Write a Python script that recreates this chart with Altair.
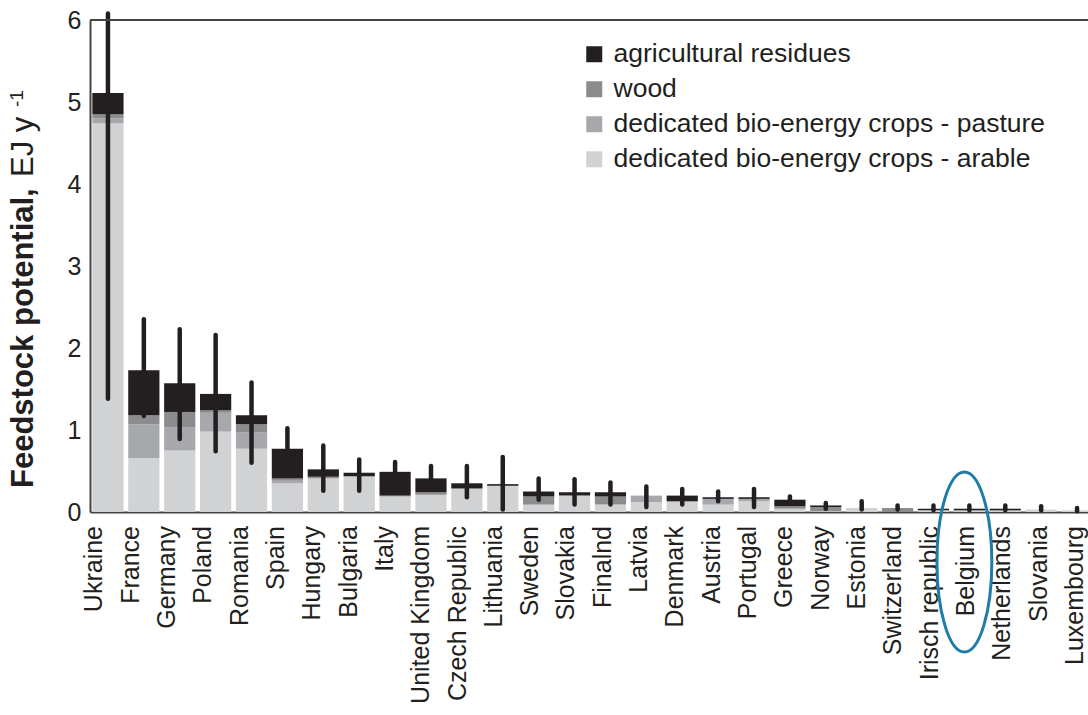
import altair as alt
import pandas as pd

countries = ["Ukraine", "France", "Germany", "Poland", "Romania", "Spain", "Hungary",
             "Bulgaria", "Italy", "United Kingdom", "Czech Republic", "Lithuania",
             "Sweden", "Slovakia", "Finalnd", "Latvia", "Denmark", "Austria",
             "Portugal", "Greece", "Norway", "Estonia", "Switzerland",
             "Irisch republic", "Belgium", "Netherlands", "Slovania", "Luxembourg"]

arable =   [4.74, 0.66, 0.75, 0.98, 0.77, 0.35, 0.41, 0.43, 0.19, 0.21, 0.28, 0.32,
            0.09, 0.20, 0.09, 0.12, 0.13, 0.09, 0.13, 0.04, 0.01, 0.05, 0.00,
            0.02, 0.02, 0.02, 0.03, 0.02]
pasture =  [0.06, 0.41, 0.28, 0.23, 0.20, 0.03, 0.00, 0.00, 0.00, 0.00, 0.00, 0.00,
            0.00, 0.00, 0.00, 0.08, 0.00, 0.07, 0.03, 0.00, 0.00, 0.00, 0.00,
            0.00, 0.00, 0.00, 0.00, 0.00]
wood =     [0.05, 0.11, 0.19, 0.03, 0.10, 0.03, 0.02, 0.01, 0.01, 0.03, 0.01, 0.00,
            0.10, 0.00, 0.10, 0.00, 0.00, 0.00, 0.00, 0.03, 0.05, 0.00, 0.05,
            0.00, 0.00, 0.00, 0.00, 0.00]
residues = [0.26, 0.55, 0.35, 0.20, 0.11, 0.36, 0.09, 0.04, 0.29, 0.17, 0.06, 0.02,
            0.06, 0.04, 0.05, 0.00, 0.07, 0.02, 0.02, 0.08, 0.02, 0.00, 0.00,
            0.02, 0.02, 0.02, 0.00, 0.00]
err_low =  [1.38, 1.17, 0.89, 0.74, 0.60, 0.55, 0.26, 0.26, 0.35, 0.30, 0.18, 0.03,
            0.15, 0.09, 0.09, 0.06, 0.09, 0.13, 0.06, 0.10, 0.04, 0.03, 0.03,
            0.02, 0.02, 0.02, 0.02, 0.01]
err_high = [6.08, 2.35, 2.23, 2.16, 1.58, 1.02, 0.81, 0.64, 0.61, 0.56, 0.56, 0.67,
            0.41, 0.40, 0.36, 0.31, 0.28, 0.25, 0.28, 0.19, 0.11, 0.13, 0.08,
            0.08, 0.08, 0.08, 0.07, 0.05]

sources = ["agricultural residues", "wood",
           "dedicated bio-energy crops - pasture", "dedicated bio-energy crops - arable"]
colors = ["#231f20", "#8c8c8e", "#a7a8ab", "#d1d2d4"]
y_ticks = [0, 1, 2, 3, 4, 5, 6]

FONT = "Liberation Sans"
INK = "#231f20"

rows = []
for i, c in enumerate(countries):
    for order, (src, vals) in enumerate([(sources[3], arable), (sources[2], pasture),
                                         (sources[1], wood), (sources[0], residues)]):
        rows.append({"country": c, "source": src, "value": vals[i], "order": order})
df = pd.DataFrame(rows)
err = pd.DataFrame({"country": countries, "lo": err_low, "hi": err_high})
one = pd.DataFrame({"k": [0]})


def xscale():
    return alt.Scale(domain=countries, range=[0, 1005], paddingInner=0.13, paddingOuter=0.065)


yscale = alt.Scale(domain=[0, 6], nice=False)

xaxis = alt.Axis(title=None, labels=False, ticks=False, domainColor="#444444", domainWidth=2)
yaxis = alt.Axis(title=None, values=y_ticks, labelFontSize=25, labelFont=FONT,
                 labelColor=INK, labelPadding=9, ticks=False, grid=False,
                 domainColor="#444444", domainWidth=2, format="d")

bars = alt.Chart(df).mark_bar().encode(
    x=alt.X("country:N", scale=xscale(), sort=countries, axis=xaxis),
    y=alt.Y("value:Q", stack="zero", scale=yscale, axis=yaxis),
    color=alt.Color("source:N", scale=alt.Scale(domain=sources, range=colors),
                    legend=alt.Legend(title=None, orient="none", legendX=491, legendY=21,
                                      symbolType="square", symbolSize=256,
                                      symbolStrokeWidth=0, labelFontSize=26.5,
                                      labelFont=FONT, labelColor=INK,
                                      rowPadding=8, labelOffset=6, padding=0,
                                      labelLimit=700)),
    order=alt.Order("order:Q"),
)

errbars = alt.Chart(err).mark_rule(strokeWidth=4.5, strokeCap="round", color=INK).encode(
    x=alt.X("country:N", scale=xscale(), sort=countries, axis=None),
    y=alt.Y("lo:Q", scale=yscale),
    y2="hi:Q",
)

# category labels (spaced slightly wider than the bars, as in the original figure)
labels = alt.Chart(err).mark_text(angle=270, align="right", baseline="bottom",
                                  fontSize=25, font=FONT, color=INK).encode(
    x=alt.X("country:N", sort=countries, axis=None,
            scale=alt.Scale(domain=countries, range=[-0.7, 1016],
                            paddingInner=0, paddingOuter=0)),
    y=alt.value(506),
    text="country:N",
)

topline = alt.Chart(one).mark_rule(strokeWidth=2, color="#444444").encode(
    x=alt.value(0), x2=alt.value(1005), y=alt.value(0))

ellipse_path = "M0,-1 A0.305,1 0 1,1 0,1 A0.305,1 0 1,1 0,-1 Z"
ellipse = alt.Chart(pd.DataFrame({"country": ["Belgium"]})).mark_point(
    shape=ellipse_path, size=32400, filled=False, stroke="#1d7ca8", strokeWidth=3,
    opacity=1, xOffset=-5).encode(
    x=alt.X("country:N", scale=xscale(), sort=countries, axis=None),
    y=alt.value(542))

title_bold = alt.Chart(one).mark_text(
    text="Feedstock potential,", angle=270, align="left", baseline="alphabetic",
    fontSize=31, fontWeight="bold", font=FONT, color=INK).encode(
    x=alt.value(-57), y=alt.value(468))
title_unit = alt.Chart(one).mark_text(
    text="EJ y", angle=270, align="left", baseline="alphabetic",
    fontSize=31, font=FONT, color=INK).encode(
    x=alt.value(-57), y=alt.value(157))
title_sup = alt.Chart(one).mark_text(
    text="-1", angle=270, align="left", baseline="alphabetic",
    fontSize=19, font=FONT, color=INK).encode(
    x=alt.value(-67), y=alt.value(87))

chart = alt.layer(bars, errbars, labels, topline, ellipse,
                  title_bold, title_unit, title_sup).resolve_scale(x="independent").properties(
    width=998, height=492,
    autosize=alt.AutoSizeParams(type="none"),
    padding={"left": 90, "top": 20, "right": 0, "bottom": 203},
    background="white",
).configure_view(stroke="transparent")

chart.save("out.html", embed_options={"renderer": "svg", "actions": False})
